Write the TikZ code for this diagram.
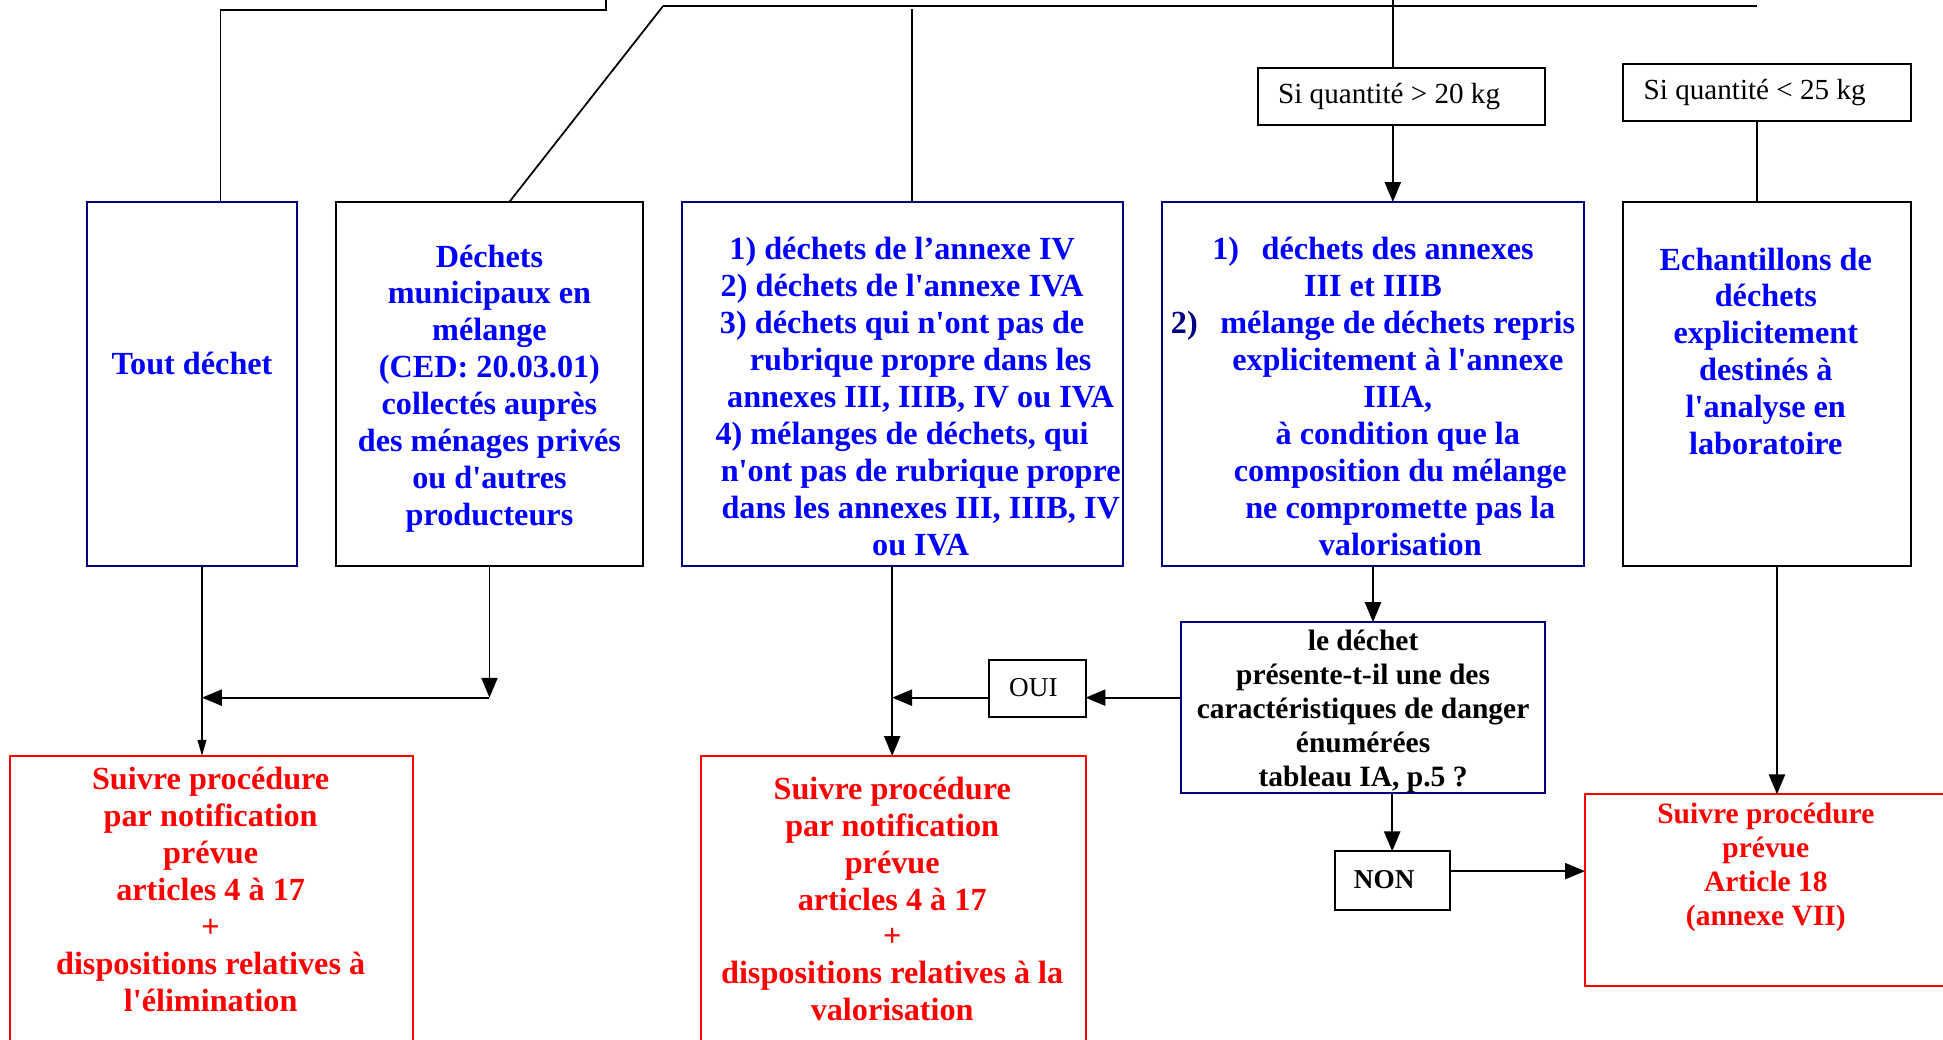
\documentclass[tikz,border=0pt]{standalone}
\usepackage{fontspec}
\setmainfont{Liberation Serif}[Ligatures=TeXOff]
\usetikzlibrary{arrows.meta}
\definecolor{navy}{RGB}{0,0,128}
\definecolor{txtblue}{RGB}{0,0,255}
\definecolor{procred}{RGB}{255,0,0}

\begin{document}
\begin{tikzpicture}[x=1pt,y=-1pt,
  box/.style={draw, line width=1.6pt, inner sep=0pt, outer sep=0pt},
  bluebox/.style={box, draw=navy},
  blackbox/.style={box, draw=black},
  redbox/.style={box, draw=procred, anchor=north west},
  link/.style={line width=1.4pt},
  arr/.style={link, -{Triangle[length=16pt,width=13pt]}},
  thinarr/.style={link, -{Triangle[length=13pt,width=7pt]}},
  bigtxt/.style={align=center, inner sep=0pt, font=\fontsize{26}{29.8}\selectfont\bfseries},
  midtxt/.style={align=center, inner sep=0pt, font=\fontsize{23.8}{27.3}\selectfont\bfseries},
  plaintxt/.style={inner sep=0pt, font=\fontsize{23.5}{27}\selectfont},
]
\useasboundingbox (0,0) rectangle (1568,839);
\clip (0,0) rectangle (1568,839);

% --- upper row of category boxes
\node[bluebox, minimum width=170pt, minimum height=294pt] (b1) at (155,310) {};
\node[blackbox, minimum width=248pt, minimum height=294pt] (b2) at (395,310) {};
\node[bluebox, minimum width=356pt, minimum height=294pt] (b3) at (728,310) {};
\node[bluebox, minimum width=340pt, minimum height=294pt] (b4) at (1108,310) {};
\node[blackbox, minimum width=232pt, minimum height=294pt] (b5) at (1426,310) {};

\node[bigtxt, text=txtblue] (t1) at (155,293) {Tout déchet};
\node[bigtxt, text=txtblue] (t2) at (395,313.5) {Déchets\\municipaux en\\mélange\\(CED: 20.03.01)\\collectés auprès\\des ménages privés\\ou d'autres\\producteurs};
\node[bigtxt, text=txtblue] (t3) at (728,320) {1) déchets de l’annexe IV\\
2) déchets de l'annexe IVA\\
3) déchets qui n'ont pas de\\
\hspace*{30pt}rubrique propre dans les\\
\hspace*{30pt}annexes III, IIIB, IV ou IVA\\
4) mélanges de déchets, qui\\
\hspace*{30pt}n'ont pas de rubrique propre\\
\hspace*{30pt}dans les annexes III, IIIB, IV\\
\hspace*{30pt}ou IVA};
\node[bigtxt, text=txtblue] (t4) at (1108,320) {1)\hspace{0.7em}déchets des annexes\\
III et IIIB\\
{\color{navy}2)}\hspace{0.7em}mélange de déchets repris\\
\hspace*{40pt}explicitement à l'annexe\\
\hspace*{40pt}IIIA,\\
\hspace*{40pt}à condition que la\\
\hspace*{44pt}composition du mélange\\
\hspace*{44pt}ne compromette pas la\\
\hspace*{44pt}valorisation};
\node[bigtxt, text=txtblue] (t5) at (1425,283.5) {Echantillons de\\déchets\\explicitement\\destinés à\\l'analyse en\\laboratoire};

% --- quantity conditions
\node[blackbox, minimum width=232pt, minimum height=46pt] (q20) at (1131,78) {};
\node[plaintxt] (q20t) at (1121,78) {Si quantité > 20 kg};
\node[blackbox, minimum width=232pt, minimum height=46pt] (q25) at (1426,75) {};
\node[plaintxt] (q25t) at (1416,75) {Si quantité < 25 kg};

% --- hazard question and answers
\node[bluebox, minimum width=294pt, minimum height=138pt] (qb) at (1100,571) {};
\node[midtxt] (qt) at (1100,574) {le déchet\\présente-t-il une des\\caractéristiques de danger\\énumérées\\tableau IA, p.5 ?};
\node[blackbox, minimum width=78pt, minimum height=46pt] (oui) at (837,556) {};
\node[inner sep=0pt, font=\fontsize{22}{25}\selectfont] (ouit) at (834,555) {OUI};
\node[blackbox, minimum width=93pt, minimum height=47pt] (non) at (1123.5,710.5) {};
\node[inner sep=0pt, font=\fontsize{22}{25}\selectfont\bfseries] (nont) at (1117,710) {NON};

% --- procedures
\node[redbox, minimum width=325pt, minimum height=260pt] (r1) at (8,610) {};
\node[redbox, minimum width=310pt, minimum height=260pt] (r2) at (566,610) {};
\node[redbox, minimum width=320pt, minimum height=155pt] (r3) at (1279,641) {};
\node[bigtxt, text=procred] (tr1) at (170,718) {Suivre procédure\\par notification\\prévue\\articles 4 à 17\\+\\dispositions relatives à\\l'élimination};
\node[bigtxt, text=procred] (tr2) at (720,725.5) {Suivre procédure\\par notification\\prévue\\articles 4 à 17\\+\\dispositions relatives à la\\valorisation};
\node[midtxt, text=procred] (tr3) at (1425,700) {Suivre procédure\\prévue\\Article 18\\(annexe VII)};

% --- junction points
\coordinate (tl1) at (489,-3);
\coordinate (tl2) at (489,8);
\coordinate (tl3) at (178,8);
\coordinate (tA) at (535,5);
\coordinate (tB) at (1418,5);
\coordinate (tC) at (736,7);
\coordinate (tD) at (1124,-3);
\coordinate (j1) at (163,563);
\coordinate (j2) at (720,563);
\coordinate (j3) at (1170,703);

% --- upper connectors
\draw[link] (tl1) -- (tl2) -- (tl3) -- (b1.north -| tl3);
\draw[link] (tA) -- (tB);
\draw[link] (tA) -- ([xshift=16pt]b2.north);
\draw[link] (tC) -- (b3.north -| tC);
\draw[link] (tD) -- (q20.north -| tD);
\draw[arr] (q20.south -| tD) -- (b4.north -| tD);
\draw[link] ([xshift=-8pt]q25.south) -- ([xshift=-8pt]b5.north);

% --- lower connectors
\draw[thinarr] (b1.south -| j1) -- (r1.north -| j1);
\draw[arr] (b2.south) -- (b2.south |- j1);
\draw[arr] (b2.south |- j1) -- (j1);
\draw[arr] (b3.south -| j2) -- (r2.north -| j2);
\draw[arr] (b4.south) -- (b4.south |- qb.north);
\draw[arr] (qb.west |- j2) -- (oui.east |- j2);
\draw[arr] (oui.west |- j2) -- (j2);
\draw[arr] (non.north |- qb.south) -- (non.north);
\draw[arr] (non.east |- j3) -- (r3.west |- j3);
\draw[arr] ([xshift=8pt]b5.south) -- ([xshift=8pt]b5.south |- r3.north);
\end{tikzpicture}
\end{document}
